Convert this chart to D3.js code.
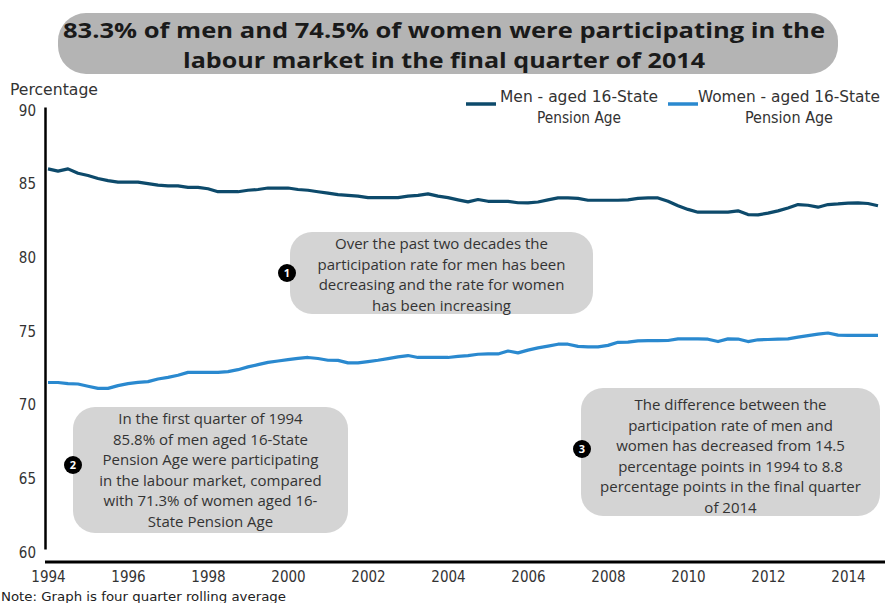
<!DOCTYPE html>
<html>
<head>
<meta charset="utf-8">
<script src="https://cdn.jsdelivr.net/npm/d3@7"></script>
<style>
  body { margin: 0; background: #fff; }
  svg { display: block; }
</style>
</head>
<body>
<svg id="chart" width="885" height="603"></svg>
<script>
/*
  labour market participation rates, men vs women, 1994 - 2014
*/

// quarterly series, 1994 Q1 to 2014 Q4 (four quarter rolling average)
var firstYear = 1994;
var tickYears = [1994, 1996, 1998, 2000, 2002, 2004, 2006, 2008, 2010, 2012, 2014];
var yTicks = [60, 65, 70, 75, 80, 85, 90];

var menRate = [
  85.8, 85.65, 85.8, 85.5,   85.35, 85.15, 85.0, 84.9,
  84.9, 84.9, 84.8, 84.7,    84.65, 84.65, 84.55, 84.55,
  84.45, 84.25, 84.25, 84.25, 84.35, 84.4, 84.5, 84.5,
  84.5, 84.4, 84.35, 84.25,  84.15, 84.05, 84.0, 83.95,
  83.85, 83.85, 83.85, 83.85, 83.95, 84.0, 84.1, 83.95,
  83.85, 83.7, 83.56, 83.72, 83.6, 83.6, 83.6, 83.5,
  83.49, 83.55, 83.7, 83.83, 83.83, 83.8, 83.67, 83.67,
  83.67, 83.67, 83.7, 83.8,  83.83, 83.83, 83.6, 83.3,
  83.05, 82.86, 82.86, 82.86, 82.86, 82.95, 82.7, 82.68,
  82.8, 82.95, 83.15, 83.38, 83.33, 83.2, 83.38, 83.42,
  83.48, 83.49, 83.45, 83.3
];

var womenRate = [
  71.3, 71.3, 71.22, 71.2,   71.05, 70.9, 70.9, 71.09,
  71.22, 71.31, 71.36, 71.54, 71.65, 71.79, 71.99, 71.99,
  71.99, 71.99, 72.04, 72.17, 72.36, 72.51, 72.67, 72.76,
  72.85, 72.94, 73.0, 72.93, 72.81, 72.8, 72.63, 72.63,
  72.72, 72.81, 72.92, 73.04, 73.13, 73.0, 73.0, 73.0,
  73.0, 73.07, 73.13, 73.22, 73.24, 73.24, 73.44, 73.31,
  73.5, 73.65, 73.77, 73.9,  73.9, 73.75, 73.72, 73.72,
  73.82, 74.03, 74.04, 74.13, 74.14, 74.14, 74.15, 74.26,
  74.26, 74.26, 74.24, 74.08, 74.26, 74.25, 74.08, 74.2,
  74.22, 74.25, 74.26, 74.38, 74.48, 74.58, 74.66, 74.52,
  74.5, 74.5, 74.5, 74.5
];

var seriesNames = [
  ["Men - aged 16-State", "Pension Age"],
  ["Women - aged 16-State", "Pension Age"]
];
var seriesColors = ["#0d4a6b", "#2a89cf"];

var titleLines = [
  "83.3% of men and 74.5% of women were participating in the",
  "labour market in the final quarter of 2014"
];
var yAxisTitle = "Percentage";
var footNote = "Note: Graph is four quarter rolling average";

var note1 = ["Over the past two decades the", "participation rate for men has been",
             "decreasing and the rate for women", "has been increasing"];
var note2 = ["In the first quarter of 1994", "85.8% of men aged 16-State",
             "Pension Age were participating", "in the labour market, compared",
             "with 71.3% of women aged 16-", "State Pension Age"];
var note3 = ["The difference between the", "participation rate of men and",
             "women has decreased from 14.5", "percentage points in 1994 to 8.8",
             "percentage points in the final quarter", "of 2014"];


var svg = d3.select("#chart");
var narrow = "'Liberation Sans Narrow', 'DejaVu Sans Condensed', 'Open Sans', sans-serif";
var body = "'Open Sans', 'DejaVu Sans', sans-serif";

// scales
var x = d3.scaleLinear().domain([1994, 2014]).range([48, 848]);
var y = d3.scaleLinear().domain([60, 90]).range([549, 107]);

// table of quarters
function toPoints(values) {
  return values.map(function(v, i) {
    return {t: firstYear + i / 4, v: v};
  });
}

// title box
svg.append("rect")
  .attr("x", 58).attr("y", 13)
  .attr("width", 780).attr("height", 61)
  .attr("rx", 28)
  .attr("fill", "#b4b4b4");

// one text element, two lines
var title = svg.append("text")
  .attr("text-anchor", "middle")
  .style("font-family", body)
  .style("font-weight", "bold")
  .style("font-size", "22px")
  .style("fill", "#1a1a1a");
title.selectAll("tspan")
  .data(titleLines)
  .enter().append("tspan")
  .attr("x", 444)
  .attr("y", function(d, i) { return 38 + i * 30; })
  .attr("textLength", function(d, i) { return i == 0 ? 762 : 522; })
  .attr("lengthAdjust", "spacingAndGlyphs")
  .text(function(d) { return d; });

// y axis
var yAxis = svg.append("g")
  .attr("transform", "translate(45,0)")
  .call(d3.axisLeft(y).tickValues(yTicks).tickSize(0).tickPadding(9));
yAxis.select(".domain").attr("stroke", "#000").attr("stroke-width", 2.5);
yAxis.selectAll("text")
  .attr("dy", "0.55em")
  .style("font-family", narrow)
  .style("font-size", "15px")
  .style("fill", "#333");

svg.append("text")
  .attr("x", 10).attr("y", 95)
  .attr("textLength", 88)
  .attr("lengthAdjust", "spacingAndGlyphs")
  .style("font-family", narrow)
  .style("font-size", "15px")
  .style("fill", "#333")
  .text(yAxisTitle);

// x axis
var xAxis = svg.append("g")
  .attr("transform", "translate(0,562)")
  .call(d3.axisBottom(x).tickValues(tickYears).tickFormat(d3.format("d")).tickSize(0).tickPadding(9));
xAxis.select(".domain").remove();
xAxis.selectAll("text")
  .style("font-family", narrow)
  .style("font-size", "15px")
  .style("fill", "#333");
svg.append("line")
  .attr("x1", 45).attr("x2", 885)
  .attr("y1", 562).attr("y2", 562)
  .attr("stroke", "#000")
  .attr("stroke-width", 3);

// lines
var line = d3.line()
  .x(function(d) { return x(d.t); })
  .y(function(d) { return y(d.v); });

[menRate, womenRate].forEach(function(values, i) {
  svg.append("path")
    .datum(toPoints(values))
    .attr("d", line)
    .attr("fill", "none")
    .attr("stroke", seriesColors[i])
    .attr("stroke-width", 3.2)
    .attr("stroke-linejoin", "round");
});

// legend
var legendX = [[466, 579], [668, 789]];
var legendW = [[158, 84], [182, 88]];
seriesNames.forEach(function(lines, i) {
  svg.append("line")
    .attr("x1", legendX[i][0]).attr("x2", legendX[i][0] + 30)
    .attr("y1", 104).attr("y2", 104)
    .attr("stroke", seriesColors[i])
    .attr("stroke-width", 3.5);
  svg.selectAll("text.leg" + i)
    .data(lines)
    .enter().append("text")
    .attr("class", "leg" + i)
    .attr("x", legendX[i][1])
    .attr("y", function(d, j) { return 102 + j * 21; })
    .attr("text-anchor", "middle")
    .attr("textLength", function(d, j) { return legendW[i][j]; })
    .attr("lengthAdjust", "spacingAndGlyphs")
    .style("font-family", narrow)
    .style("font-size", "15px")
    .style("fill", "#333")
    .text(function(d) { return d; });
});

// annotation boxes
function annotate(lines, num, bx, by, bw, bh, cx, cy, top) {
  var g = svg.append("g");
  g.append("rect")
    .attr("x", bx).attr("y", by)
    .attr("width", bw).attr("height", bh)
    .attr("rx", 22)
    .attr("fill", "#d4d4d4");
  g.selectAll("text.note")
    .data(lines)
    .enter().append("text")
    .attr("x", bx + bw / 2)
    .attr("y", function(d, j) { return top + j * 20.5; })
    .attr("text-anchor", "middle")
    .style("font-family", body)
    .style("font-size", "15px")
    .style("fill", "#333")
    .text(function(d) { return d; });
  g.append("circle")
    .attr("cx", cx).attr("cy", cy).attr("r", 9)
    .attr("fill", "#000");
  g.append("text")
    .attr("x", cx).attr("y", cy + 4)
    .attr("text-anchor", "middle")
    .style("font-family", body)
    .style("font-weight", "bold")
    .style("font-size", "11px")
    .style("fill", "#fff")
    .text(num);
}

annotate(note1, "1", 290, 232, 303, 82, 287, 273, 249);
annotate(note2, "2", 73, 407, 275, 126, 73, 465, 424);
annotate(note3, "3", 581, 388, 299, 128, 582, 449, 410);

// note
svg.append("text")
  .attr("x", 1).attr("y", 601)
  .attr("textLength", 285)
  .attr("lengthAdjust", "spacingAndGlyphs")
  .style("font-family", narrow)
  .style("font-size", "13px")
  .style("fill", "#222")
  .text(footNote);
</script>
</body>
</html>
